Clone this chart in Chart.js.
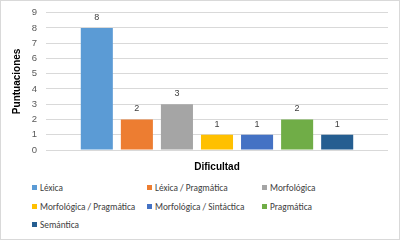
<!DOCTYPE html>
<html>
<head>
<meta charset="utf-8">
<script src="https://cdn.jsdelivr.net/npm/chart.js@4.4.1/dist/chart.umd.min.js"></script>
<style>
  html, body { margin: 0; padding: 0; background: #fff; }
  #frame {
    position: relative; width: 398px; height: 238px;
    border: 1px solid #d9d9d9; overflow: hidden;
    font-family: Carlito, Calibri, "Liberation Sans", sans-serif;
  }
  #chartBox { position: absolute; left: 0; top: -3px; width: 398px; height: 175px; }
  #legend {
    position: absolute; left: 31px; top: 180px;
    display: grid; grid-template-columns: 115px 115px 115px;
    row-gap: 5px; font-size: 9.3px; color: #404040;
  }
  .leg-item { display: flex; align-items: center; height: 13.5px; white-space: nowrap; }
  .leg-box { width: 5px; height: 5px; margin-right: 3px; flex: none; }
</style>
</head>
<body>
<div id="frame">
  <div id="chartBox"><canvas id="chart"></canvas></div>
  <div id="legend"></div>
</div>
<script>
// datos del gráfico
const categorias = ['Dificultad'];
const series = ['Léxica', 'Léxica / Pragmática', 'Morfológica', 'Morfológica / Pragmática',
                'Morfológica / Sintáctica', 'Pragmática', 'Semántica'];
const valores = [8, 2, 3, 1, 1, 2, 1];
const colores = ['#5B9BD5', '#ED7D31', '#A5A5A5', '#FFC000', '#4472C4', '#70AD47', '#255E91'];
const ticksY = [0, 1, 2, 3, 4, 5, 6, 7, 8, 9];

// etiquetas de valor encima de cada barra
const etiquetasValor = {
    id: 'etiquetasValor',
    afterDatasetsDraw(chart) {
        const ctx = chart.ctx;
        ctx.save();
        ctx.font = '9px "Liberation Sans", sans-serif';
        ctx.fillStyle = '#404040';
        ctx.textAlign = 'center';
        ctx.textBaseline = 'bottom';
        chart.data.datasets.forEach((ds, i) => {
            chart.getDatasetMeta(i).data.forEach((bar, j) => {
                ctx.fillText(ds.data[j], bar.x, bar.y - 6);
            });
        });
        ctx.restore();
    }
};

const chart = new Chart(document.getElementById('chart'), {
    type: 'bar',
    data: {
        labels: categorias,
        datasets: series.map((s, i) => ({
            label: s,
            data: [valores[i]],
            backgroundColor: colores[i],
            barPercentage: 0.8,
            categoryPercentage: 0.82
        }))
    },
    options: {
        responsive: true,
        maintainAspectRatio: false,
        animation: false,
        layout: { padding: { left: 10, right: 11, top: 7, bottom: 0 } },
        plugins: {
            legend: { display: false },
            tooltip: { enabled: false }
        },
        scales: {
            x: {
                grid: { display: false },
                border: { display: false },
                ticks: { display: false },
                title: {
                    display: true, text: 'Dificultad', color: '#000',
                    font: { family: '"Liberation Sans", sans-serif', size: 10, weight: 'bold' },
                    padding: { top: 6, bottom: 0 }
                },
                afterFit: (s) => { s.height = 23; }
            },
            y: {
                min: 0, max: 9,
                afterBuildTicks: (s) => { s.ticks = ticksY.map(v => ({ value: v })); },
                grid: { color: '#d9d9d9', drawTicks: false },
                border: { display: false },
                ticks: {
                    color: '#595959', padding: 9,
                    font: { family: '"Liberation Sans", sans-serif', size: 9.5 }
                },
                title: {
                    display: true, text: 'Puntuaciones', color: '#000',
                    font: { family: '"Liberation Sans", sans-serif', size: 10, weight: 'bold' },
                    padding: { top: 0, bottom: 4 }
                },
                afterFit: (s) => { s.width = 35; }
            }
        }
    },
    plugins: [etiquetasValor]
});

// leyenda en tres columnas
const leyenda = document.getElementById('legend');
chart.data.datasets.forEach(ds => {
    const item = document.createElement('div');
    item.className = 'leg-item';
    item.innerHTML = '<span class="leg-box" style="background:' + ds.backgroundColor + '"></span>' + ds.label;
    leyenda.appendChild(item);
});
</script>
</body>
</html>
